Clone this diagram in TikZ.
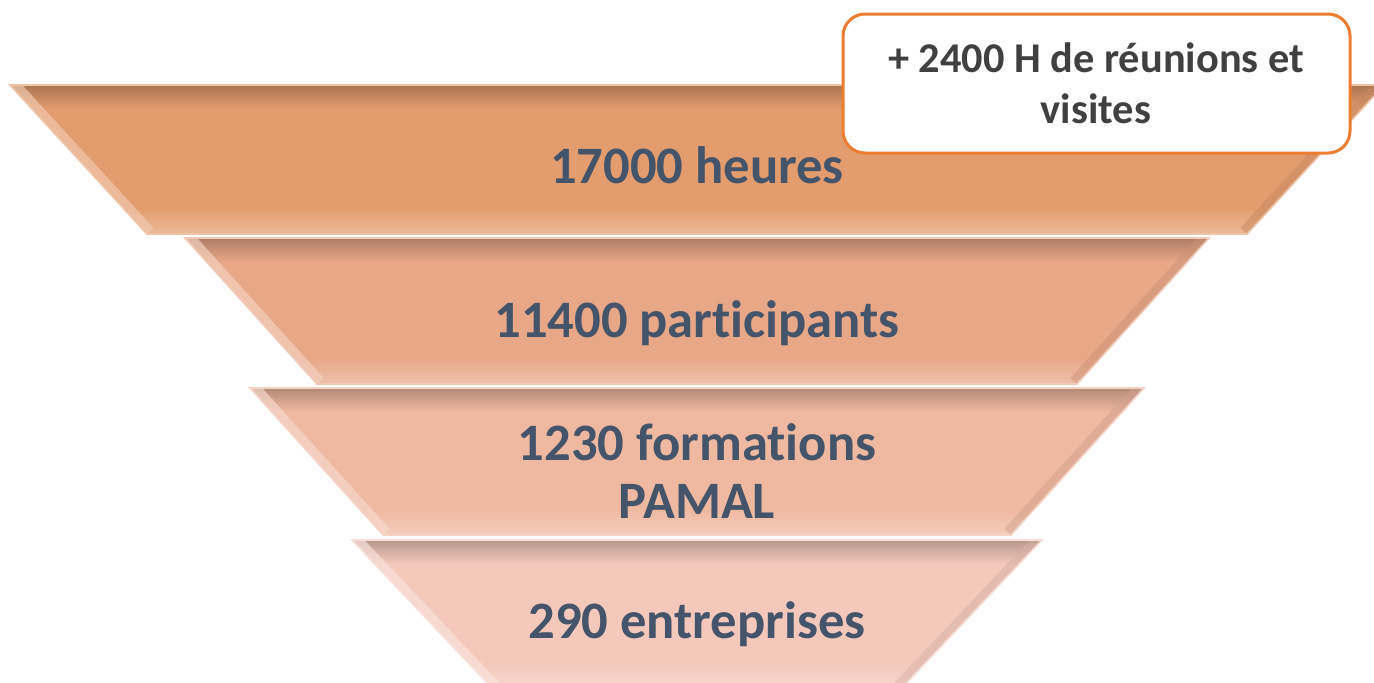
\documentclass[tikz,border=0pt]{standalone}
\usepackage{fontspec}
\setmainfont{Carlito}[Ligatures={NoCommon}]
\definecolor{bandA}{HTML}{E39C6D}
\definecolor{bandB}{HTML}{E8A787}
\definecolor{bandC}{HTML}{EFB8A0}
\definecolor{bandD}{HTML}{F4C9BC}
\definecolor{bandtxt}{HTML}{44546A}
\definecolor{notetxt}{HTML}{404040}
\definecolor{noteline}{HTML}{ED7D31}

\begin{document}
\begin{tikzpicture}[x=0.5pt,y=-0.5pt]
\useasboundingbox (0,0) rectangle (1374,682);
\clip (0,0) rectangle (1374,682);

% the four bands of the funnel
\foreach \yt/\yb/\wt/\wb/\col in {85/234/687/550/bandA, 238/384/512/380/bandB, 388/535/447/314/bandC, 540/690/345/203/bandD} {
  \begin{scope}
    \clip (697-\wt,\yt) -- (697+\wt,\yt) -- (697+\wb,\yb) -- (697-\wb,\yb) -- cycle;
    \fill[\col] (0,\yt) rectangle (1374,\yb);
    \shade[top color=\col!75!black, bottom color=\col] (0,\yt) rectangle (1374,\yt+24);
    \shade[top color=\col, bottom color=\col!70!white] (0,\yb-26) rectangle (1374,\yb);
    \draw[line width=9pt, \col!55!white, opacity=0.7] (697-\wt,\yt) -- (697-\wb,\yb);
    \draw[line width=9pt, \col!88!black, opacity=0.5] (697+\wt,\yt) -- (697+\wb,\yb);
  \end{scope}
  \draw[line width=0.8pt, \col!60!white] (697-\wt,\yt) -- (697+\wt,\yt) -- (697+\wb,\yb) -- (697-\wb,\yb) -- cycle;
}

\node[anchor=base, text=bandtxt, font=\fontsize{26.3}{29}\selectfont\bfseries] (heures) at (697,183) {17000 heures};
\node[anchor=base, text=bandtxt, font=\fontsize{26.3}{29}\selectfont\bfseries] (participants) at (697,337) {11400 participants};
\node[anchor=base, align=center, text=bandtxt, font=\fontsize{26.3}{29}\selectfont\bfseries] (formations) at (697,518) {1230 formations\\PAMAL};
\node[anchor=base, text=bandtxt, font=\fontsize{26.3}{29}\selectfont\bfseries] (entreprises) at (697,638) {290 entreprises};

% note box
\draw[noteline, fill=white, line width=1.5pt, rounded corners=11pt] (843,14) rectangle (1350,153);
\node[align=center, text=notetxt, font=\fontsize{21.2}{25.5}\selectfont\bfseries] (reunions) at (1096,83.5) {+ 2400 H de réunions et\\visites};

\end{tikzpicture}
\end{document}
